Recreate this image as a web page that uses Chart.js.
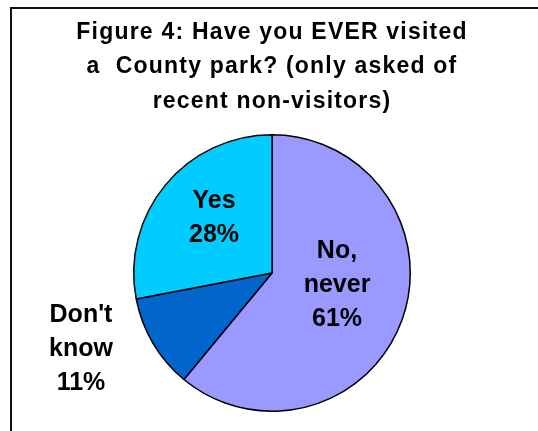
<!DOCTYPE html>
<html>
<head>
<meta charset="utf-8">
<script src="https://cdn.jsdelivr.net/npm/chart.js@4/dist/chart.umd.min.js"></script>
<style>
  html, body { margin: 0; padding: 0; background: #ffffff; }
  #wrap { width: 538px; height: 431px; position: relative; }
</style>
</head>
<body>
<div id="wrap"><canvas id="c" width="538" height="431"></canvas></div>
<script>
// Survey answers and their shares (percent)
const categories = ['No, never', "Don't know", 'Yes'];
const shares = [61, 11, 28];
const sliceColors = ['#9999FF', '#0066CC', '#00CCFF'];
const titleLines = ['Figure 4: Have you EVER visited', 'a  County park? (only asked of', 'recent non-visitors)'];
// Label text for each slice, split over lines
const labelLines = [
  ['No,', 'never', shares[0] + '%'],
  ["Don't", 'know', shares[1] + '%'],
  ['Yes', shares[2] + '%']
];

const TITLE_FONT = 'bold 23px "Liberation Sans", Arial, sans-serif';
const LABEL_FONT = 'bold 25px "Liberation Sans", Arial, sans-serif';

// Title, outer frame and slice labels
const decorations = {
  id: 'decorations',
  beforeDraw(chart) {
    const ctx = chart.ctx;
    ctx.save();
    ctx.fillStyle = '#ffffff';
    ctx.fillRect(0, 0, chart.width, chart.height);
    ctx.restore();
  },
  afterDraw(chart) {
    const ctx = chart.ctx;
    const area = chart.chartArea;
    ctx.save();
    // frame
    ctx.strokeStyle = '#111111';
    ctx.lineWidth = 2;
    ctx.strokeRect(11, 8, 560, 460);
    // title
    ctx.fillStyle = '#000000';
    ctx.font = TITLE_FONT;
    ctx.textAlign = 'center';
    ctx.textBaseline = 'alphabetic';
    if ('letterSpacing' in ctx) ctx.letterSpacing = '1.2px';
    titleLines.forEach((t, i) => ctx.fillText(t, 272, 38.5 + i * 34.5));
    if ('letterSpacing' in ctx) ctx.letterSpacing = '0px';
    // slice labels, placed relative to the pie's centre (first baseline)
    ctx.font = LABEL_FONT;
    const cx = (area.left + area.right) / 2;
    const cy = (area.top + area.bottom) / 2;
    const anchors = [
      [cx + 65, cy - 15],   // No, never
      [cx - 191, cy + 49],  // Don't know
      [cx - 58, cy - 65]    // Yes
    ];
    labelLines.forEach((lines, i) => {
      const [ax, ay] = anchors[i];
      lines.forEach((t, j) => ctx.fillText(t, ax, ay + j * 34));
    });
    ctx.restore();
  }
};

new Chart(document.getElementById('c'), {
  type: 'pie',
  data: {
    labels: categories,
    datasets: [{
      data: shares,
      backgroundColor: sliceColors,
      borderColor: '#000000',
      borderWidth: 1.5
    }]
  },
  options: {
    responsive: false,
    animation: false,
    events: [],
    layout: { padding: { left: 133, right: 127, top: 134, bottom: 19 } },
    plugins: {
      legend: { display: false },
      title: { display: false },
      tooltip: { enabled: false }
    }
  },
  plugins: [decorations]
});
</script>
</body>
</html>
